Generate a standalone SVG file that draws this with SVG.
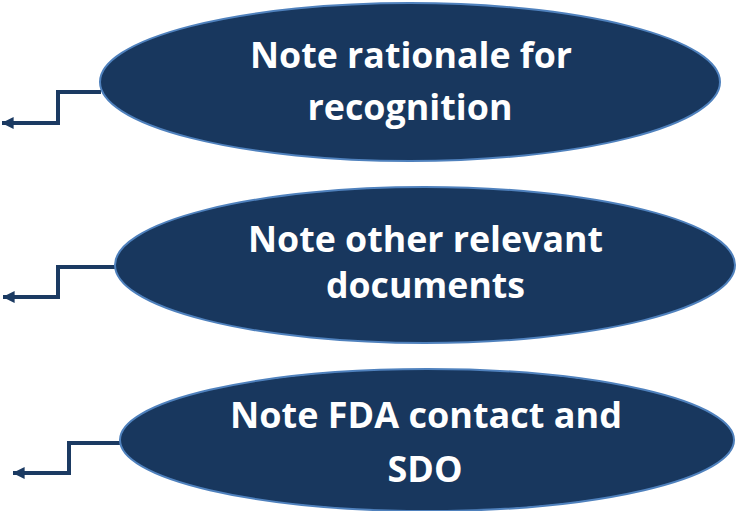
<svg xmlns="http://www.w3.org/2000/svg" width="736" height="511" viewBox="0 0 736 511">
<defs>
<style>
.node{fill:#18375e;stroke:#4f81bd;stroke-width:2}
.lbl{fill:#ffffff;font-family:"Open Sans","Noto Sans","Liberation Sans",sans-serif;font-weight:bold;font-size:36px;text-anchor:middle}
.conn{fill:none;stroke:#1b3a62;stroke-width:4;stroke-linejoin:miter}
</style>
<marker id="ah" markerWidth="3" markerHeight="3" refX="2.9" refY="1.5" orient="auto" markerUnits="strokeWidth">
<path d="M0,0 L3,1.5 L0,3 Z" fill="#1b3a62"/>
</marker>
</defs>
<rect width="736" height="511" fill="#ffffff"/>
<g id="connectors">
<path class="conn" d="M101,92 H58 V123 H2" marker-end="url(#ah)"/>
<path class="conn" d="M116,267 H58 V297 H3" marker-end="url(#ah)"/>
<path class="conn" d="M121,443 H69 V473 H13" marker-end="url(#ah)"/>
</g>
<g id="node1">
<ellipse class="node" cx="410" cy="82" rx="310" ry="79"/>
<text class="lbl" x="411" y="68" textLength="322" lengthAdjust="spacingAndGlyphs">Note rationale for</text>
<text class="lbl" x="410" y="120" textLength="205" lengthAdjust="spacingAndGlyphs">recognition</text>
</g>
<g id="node2">
<ellipse class="node" cx="425" cy="265" rx="310" ry="78"/>
<text class="lbl" x="425.5" y="252" textLength="355" lengthAdjust="spacingAndGlyphs">Note other relevant</text>
<text class="lbl" x="425.5" y="298" textLength="199" lengthAdjust="spacingAndGlyphs">documents</text>
</g>
<g id="node3">
<ellipse class="node" cx="427" cy="440" rx="307" ry="71"/>
<text class="lbl" x="426" y="428" textLength="392" lengthAdjust="spacingAndGlyphs">Note FDA contact and</text>
<text class="lbl" x="425" y="482" textLength="75" lengthAdjust="spacingAndGlyphs">SDO</text>
</g>
</svg>
